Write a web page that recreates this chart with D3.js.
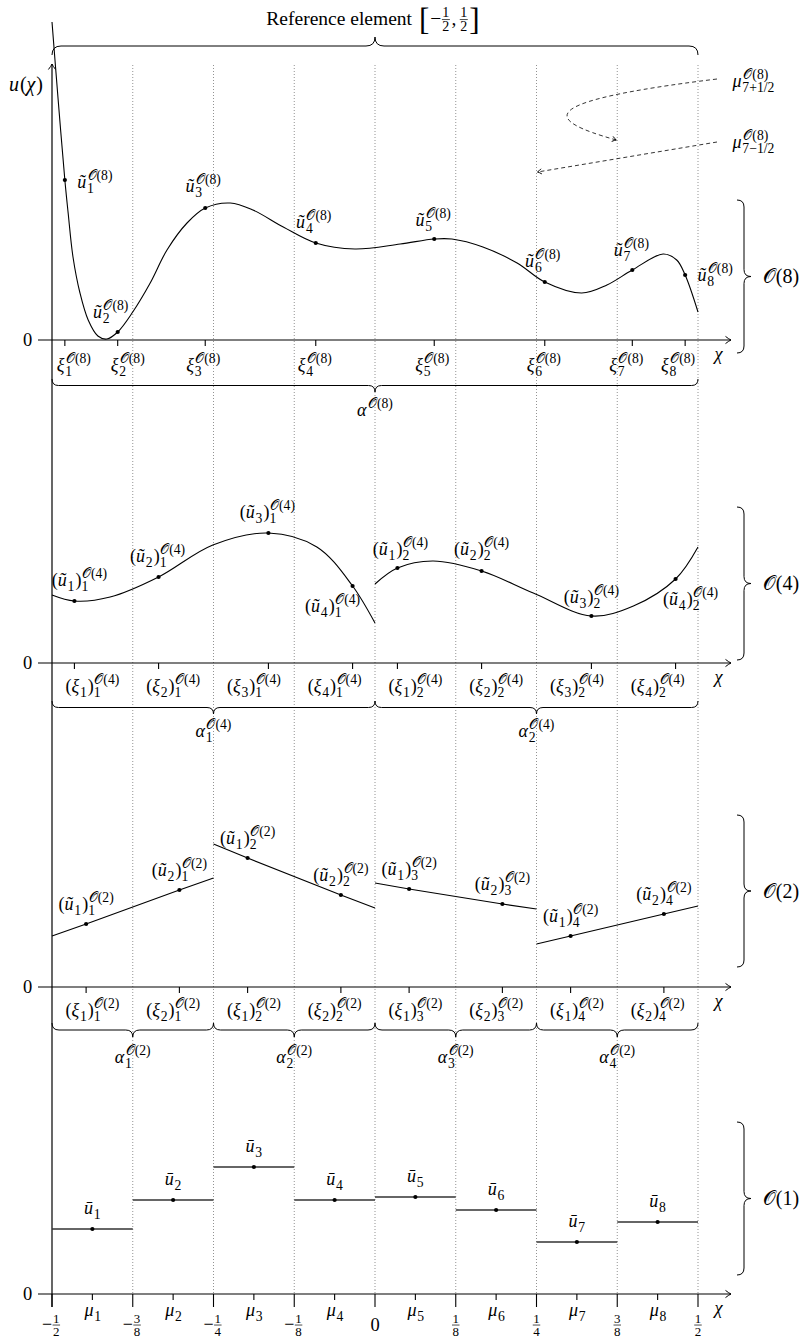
<!DOCTYPE html>
<html><head><meta charset="utf-8">
<script src="https://cdn.jsdelivr.net/npm/d3@7"></script>
<style>
body{margin:0;background:#fff}
svg{display:block}
</style>
</head><body>
<svg id="c" width="802" height="1342" font-family="Liberation Serif, serif"></svg>
<script>
// ---------------- DATA ----------------
const cellEdges = [-0.5,-0.375,-0.25,-0.125,0,0.125,0.25,0.375,0.5];
const edgeSigns = ["−","−","−","−","","","","",""];
const edgeNums  = ["1","3","1","1","0","1","1","3","1"];
const edgeDens  = ["2","8","4","8","","8","4","8","2"];
const cellCenters = [-0.4375,-0.3125,-0.1875,-0.0625,0.0625,0.1875,0.3125,0.4375];
const cellIdx = ["1","2","3","4","5","6","7","8"];

// O(8): one polynomial on the whole element
const o8Nodes = [-0.4801,-0.3983,-0.2628,-0.0917,0.0917,0.2628,0.3983,0.4801];
const o8NodeVals = [1.60,0.08,1.32,0.97,1.01,0.58,0.70,0.65];
const o8CurveX = [-0.5,-0.4907,-0.4801,-0.475,-0.4675,-0.4567,-0.444,-0.429,-0.415,-0.3983,-0.375,-0.348,-0.322,-0.291,-0.2628,-0.224,-0.189,-0.142,-0.0917,-0.031,0.039,0.0917,0.119,0.167,0.220,0.2628,0.320,0.359,0.3983,0.446,0.467,0.4801,0.5];
const o8CurveU = [3.18,2.42,1.60,1.27,0.83,0.47,0.20,0.04,0.01,0.08,0.28,0.57,0.90,1.17,1.32,1.37,1.30,1.13,0.97,0.91,0.96,1.01,1.01,0.93,0.77,0.58,0.47,0.55,0.70,0.86,0.80,0.65,0.28];

// O(4): two cubic pieces
const o4Nodes = [[-0.4653,-0.3350,-0.1650,-0.0347],[0.0347,0.1650,0.3350,0.4653]];
const o4NodeVals = [[0.62,0.86,1.30,0.77],[0.95,0.92,0.47,0.84]];
const o4CurveX = [[-0.5,-0.4653,-0.41,-0.3350,-0.251,-0.1650,-0.09,-0.0347,0],[0,0.0347,0.09,0.1650,0.245,0.3350,0.40,0.4653,0.5]];
const o4CurveU = [[0.68,0.62,0.66,0.86,1.18,1.30,1.16,0.77,0.40],[0.79,0.95,1.02,0.92,0.70,0.47,0.57,0.84,1.16]];

// O(2): four linear pieces
const o2Nodes = [[-0.4472,-0.3028],[-0.1972,-0.0528],[0.0528,0.1972],[0.3028,0.4472]];
const o2NodeVals = [[0.63,0.97],[1.29,0.92],[0.98,0.83],[0.51,0.73]];
const o2EndVals = [[0.51,1.09],[1.43,0.79],[1.04,0.78],[0.43,0.81]];

// O(1): cell means
const o1Means = [0.65,0.94,1.27,0.94,0.97,0.84,0.52,0.72];

// ---------------- LAYOUT ----------------
const FONT = "Liberation Serif, serif";
const svg = d3.select("#c");
const x = d3.scaleLinear().domain([-0.5,0.5]).range([52,698]);
const bases = [340,663,987,1294];
const yS = b => d3.scaleLinear().domain([0,1]).range([b,b-100]);
const FS = 18;

const defs = svg.append("defs");
defs.append("marker").attr("id","arr").attr("viewBox","-7 -5 8 10").attr("refX",0).attr("refY",0)
  .attr("markerUnits","userSpaceOnUse").attr("markerWidth",8).attr("markerHeight",10).attr("orient","auto")
  .append("path").attr("d","M-5.5,-3.6 Q-2,-0.8 0,0 Q-2,0.8 -5.5,3.6").attr("fill","none").attr("stroke","#000").attr("stroke-width",1);
defs.append("marker").attr("id","arrs").attr("viewBox","-6 -4 7 8").attr("refX",0).attr("refY",0)
  .attr("markerUnits","userSpaceOnUse").attr("markerWidth",7).attr("markerHeight",8).attr("orient","auto")
  .append("path").attr("d","M-4,-2.6 Q-1.5,-0.6 0,0 Q-1.5,0.6 -4,2.6").attr("fill","none").attr("stroke","#000").attr("stroke-width",0.9);

// math label builder: items laid out left-to-right, group centred at (cx,cy)
function mlabel(parent, cx, cy, items, size){
  size = size || FS;
  const ss = size*0.76;
  const g = parent.append("g");
  let cx0 = 0;
  const put = (txt, xx, yy, fs, it) => {
    const t = g.append("text").attr("x",xx).attr("y",yy).attr("font-family",FONT)
      .attr("font-size",fs).attr("font-style", it ? "italic" : "normal").attr("fill","#000").text(txt);
    return t.node().getComputedTextLength();
  };
  const measure = (txt, fs) => {
    const t = g.append("text").attr("font-family",FONT).attr("font-size",fs).text(txt);
    const w = t.node().getComputedTextLength(); t.remove(); return w;
  };
  for (const it of items){
    if (typeof it === "string"){ cx0 += put(it, cx0, 0, size, false); }
    else if (it.gap !== undefined){ cx0 += it.gap; }
    else if (it.i !== undefined){ cx0 += put(it.i, cx0, 0, size, true) + 0.8; }
    else if (it.big !== undefined){ cx0 += put(it.big, cx0, size*0.24, size*1.6, false) + 1; }
    else if (it.frac){
      const fs = size*0.72, ax = size*0.27;
      const wn = measure(it.frac[0], fs), wd = measure(it.frac[1], fs);
      const w = Math.max(wn,wd) + 2;
      put(it.frac[0], cx0 + 1 + (w-2-wn)/2, -ax - 2.2, fs, false);
      put(it.frac[1], cx0 + 1 + (w-2-wd)/2, -ax + fs*0.72 + 1.8, fs, false);
      g.append("line").attr("x1",cx0+0.5).attr("x2",cx0+w-0.5).attr("y1",-ax).attr("y2",-ax)
        .attr("stroke","#000").attr("stroke-width",0.7);
      cx0 += w + 1;
    }
    else {
      let w = 0;
      if (it.sup !== undefined) w = Math.max(w, put(it.sup, cx0 + (it.sdx||0.6), -size*0.44, ss, false) + (it.sdx||0.6));
      if (it.sub !== undefined) w = Math.max(w, put(it.sub, cx0, size*0.27, ss, it.subI));
      cx0 += w + 1;
    }
  }
  const bb = g.node().getBBox();
  g.attr("transform", `translate(${cx - bb.x - bb.width/2},${cy - bb.y - bb.height/2})`);
  return g;
}

function hBrace(x1, x2, y0, d, a){
  const h = a/2, xm = (x1+x2)/2;
  return `M${x1},${y0} Q${x1},${y0+d*h} ${x1+h},${y0+d*h} L${xm-h},${y0+d*h} Q${xm},${y0+d*h} ${xm},${y0+d*a} `+
         `Q${xm},${y0+d*h} ${xm+h},${y0+d*h} L${x2-h},${y0+d*h} Q${x2},${y0+d*h} ${x2},${y0}`;
}
function vBrace(y1, y2, x0, a){
  const h = a/2, ym = (y1+y2)/2;
  return `M${x0},${y1} Q${x0+h},${y1} ${x0+h},${y1+h} L${x0+h},${ym-h} Q${x0+h},${ym} ${x0+a},${ym} `+
         `Q${x0+h},${ym} ${x0+h},${ym+h} L${x0+h},${y2-h} Q${x0+h},${y2} ${x0},${y2}`;
}
const braceStyle = p => p.attr("fill","none").attr("stroke","#000").attr("stroke-width",1);

// dotted cell boundaries
svg.append("g").selectAll("line").data(cellEdges.slice(1)).join("line")
  .attr("x1",d=>x(d)).attr("x2",d=>x(d)).attr("y1",65).attr("y2",bases[3])
  .attr("stroke","#777").attr("stroke-width",0.8).attr("stroke-dasharray","1,2");

// vertical axis
svg.append("line").attr("x1",x(-0.5)).attr("x2",x(-0.5)).attr("y1",bases[3]+13).attr("y2",64)
  .attr("stroke","#000").attr("stroke-width",1.2).attr("marker-end","url(#arr)");
mlabel(svg, 26, 84, [{i:"u"},"(",{i:"χ"},")"], 20);

const O = "𝒪";
const lineGen = (ys) => d3.line().x(d=>x(d[0])).y(d=>ys(d[1])).curve(d3.curveCatmullRom.alpha(0.5));

function axisX(b){
  svg.append("line").attr("x1",38).attr("x2",731).attr("y1",b).attr("y2",b)
    .attr("stroke","#000").attr("stroke-width",1.2).attr("marker-end","url(#arr)");
  mlabel(svg, 27.5, b, ["0"], 18.5);
  mlabel(svg, 718, b+14, [{i:"χ"}], 18.5);
}
function ticks(vals, b, len){
  svg.append("g").selectAll("line").data(vals).join("line")
    .attr("x1",d=>x(d)).attr("x2",d=>x(d)).attr("y1",b).attr("y2",b+len)
    .attr("stroke","#000").attr("stroke-width",1.1);
}
function dots(xs, us, ys){
  svg.append("g").selectAll("circle").data(xs.map((d,i)=>[d,us[i]])).join("circle")
    .attr("cx",d=>x(d[0])).attr("cy",d=>ys(d[1])).attr("r",2.1).attr("fill","#000");
}
function rightBrace(y1, y2, lab){
  braceStyle(svg.append("path").attr("d", vBrace(y1, y2, 737, 14)));
  mlabel(svg, 781, (y1+y2)/2, [O+"("+lab+")"], 20);
}

// ---------- Panel O(8) ----------
{
  const b = bases[0], ys = yS(b);
  axisX(b);
  ticks(o8Nodes, b, 6);
  const xiDx = [9,10,-2,-1,-2,-1,-6,-7];
  o8Nodes.forEach((n,i)=> mlabel(svg, x(n)+xiDx[i], b+25, [{i:"ξ"},{sub:cellIdx[i], sup:O+"(8)"}]));
  svg.append("path").attr("d", lineGen(ys)(o8CurveX.map((d,i)=>[d,o8CurveU[i]])))
    .attr("fill","none").attr("stroke","#000").attr("stroke-width",1.1);
  dots(o8Nodes, o8NodeVals, ys);
  const uOff = [[30,2],[-7,-20],[-2,-22],[-2,-21],[-1,-19],[-2,-21],[-1,-20],[30,0]];
  o8Nodes.forEach((n,i)=> mlabel(svg, x(n)+uOff[i][0], ys(o8NodeVals[i])+uOff[i][1], [{i:"ũ"},{sub:cellIdx[i], sup:O+"(8)"}]));
  braceStyle(svg.append("path").attr("d", hBrace(x(-0.5), x(0.5), b+39, 1, 13)));
  mlabel(svg, x(0), b+68, [{i:"α"},{sup:O+"(8)"}]);
  rightBrace(200, 353, "8");
}

// ---------- Panel O(4) ----------
{
  const b = bases[1], ys = yS(b);
  axisX(b);
  ticks(o4Nodes.flat(), b, 6);
  const uOff = [[[5,-21],[-1,-21],[-1,-21],[-20,20]],[[3,-19],[0,-22],[0,-19],[15,20]]];
  o4Nodes.forEach((grp,j)=>{
    grp.forEach((n,k)=>{
      mlabel(svg, x(cellCenters[j*4+k]), b+23, ["(",{i:"ξ"},{sub:cellIdx[k]},")",{sub:cellIdx[j], sup:O+"(4)"}]);
    });
    svg.append("path").attr("d", lineGen(ys)(o4CurveX[j].map((d,i)=>[d,o4CurveU[j][i]])))
      .attr("fill","none").attr("stroke","#000").attr("stroke-width",1.1);
    dots(grp, o4NodeVals[j], ys);
    grp.forEach((n,k)=> mlabel(svg, x(n)+uOff[j][k][0], ys(o4NodeVals[j][k])+uOff[j][k][1],
      ["(",{i:"ũ"},{sub:cellIdx[k]},")",{sub:cellIdx[j], sup:O+"(4)"}]));
    const e1 = cellEdges[j*4], e2 = cellEdges[j*4+4];
    braceStyle(svg.append("path").attr("d", hBrace(x(e1), x(e2), b+38, 1, 13)));
    mlabel(svg, x((e1+e2)/2), b+68, [{i:"α"},{sub:cellIdx[j], sup:O+"(4)"}]);
  });
  rightBrace(507, 660, "4");
}

// ---------- Panel O(2) ----------
{
  const b = bases[2], ys = yS(b);
  axisX(b);
  ticks(o2Nodes.flat(), b, 6);
  o2Nodes.forEach((grp,j)=>{
    const e1 = cellEdges[j*2], e2 = cellEdges[j*2+2];
    grp.forEach((n,k)=> mlabel(svg, x(cellCenters[j*2+k]), b+23, ["(",{i:"ξ"},{sub:cellIdx[k]},")",{sub:cellIdx[j], sup:O+"(2)"}]));
    const pts = [[e1,o2EndVals[j][0]],[grp[0],o2NodeVals[j][0]],[grp[1],o2NodeVals[j][1]],[e2,o2EndVals[j][1]]];
    svg.append("path").attr("d", d3.line().x(d=>x(d[0])).y(d=>ys(d[1]))(pts))
      .attr("fill","none").attr("stroke","#000").attr("stroke-width",1.1);
    dots(grp, o2NodeVals[j], ys);
    grp.forEach((n,k)=> mlabel(svg, x(n), ys(o2NodeVals[j][k])-20,
      ["(",{i:"ũ"},{sub:cellIdx[k]},")",{sub:cellIdx[j], sup:O+"(2)"}]));
    braceStyle(svg.append("path").attr("d", hBrace(x(e1), x(e2), b+36, 1, 14)));
    mlabel(svg, x((e1+e2)/2), b+70, [{i:"α"},{sub:cellIdx[j], sup:O+"(2)"}]);
  });
  rightBrace(815, 967, "2");
}

// ---------- Panel O(1) ----------
{
  const b = bases[3], ys = yS(b);
  axisX(b);
  ticks(cellEdges, b, 13);
  ticks(cellCenters, b, 6);
  svg.append("g").selectAll("line").data(o1Means).join("line")
    .attr("x1",(d,i)=>x(cellEdges[i])).attr("x2",(d,i)=>x(cellEdges[i+1]))
    .attr("y1",d=>ys(d)).attr("y2",d=>ys(d)).attr("stroke","#333").attr("stroke-width",1.3);
  dots(cellCenters, o1Means, ys);
  cellCenters.forEach((c,i)=>{
    mlabel(svg, x(c), ys(o1Means[i])-19, [{i:"ū"},{sub:cellIdx[i]}]);
    mlabel(svg, x(c), b+18, [{i:"μ"},{sub:cellIdx[i]}]);
  });
  cellEdges.forEach((e,i)=>{
    const items = edgeDens[i] === "" ? [edgeNums[i]] :
      (edgeSigns[i] ? [edgeSigns[i], {frac:[edgeNums[i], edgeDens[i]]}] : [{frac:[edgeNums[i], edgeDens[i]]}]);
    mlabel(svg, x(e) + (edgeSigns[i] ? -1 : 0), b+31, items, edgeDens[i] === "" ? 18.5 : 18);
  });
  rightBrace(1122, 1275, "1");
}

// ---------- Top: reference element ----------
braceStyle(svg.append("path").attr("d", hBrace(x(-0.5), x(0.5), 55, -1, 18)));
mlabel(svg, 373, 19, ["Reference element",{gap:7},{big:"["},"−",{frac:["1","2"]},",",{gap:3},{frac:["1","2"]},{big:"]"}], 19.5);

// dashed annotation arrows for interface points
svg.append("path").attr("d", `M717,79 C530,102 545,120 ${x(0.375)-1},140`)
  .attr("fill","none").attr("stroke","#000").attr("stroke-width",0.8).attr("stroke-dasharray","4,3")
  .attr("marker-end","url(#arrs)");
svg.append("path").attr("d", `M717,142 L${x(0.25)+1},172`)
  .attr("fill","none").attr("stroke","#000").attr("stroke-width",0.8).attr("stroke-dasharray","4,3")
  .attr("marker-end","url(#arrs)");
mlabel(svg, 753, 81, [{i:"μ"},{sub:"7+1/2", sup:O+"(8)", sdx:1}]);
mlabel(svg, 753, 142, [{i:"μ"},{sub:"7−1/2", sup:O+"(8)", sdx:1}]);
</script>
</body></html>
